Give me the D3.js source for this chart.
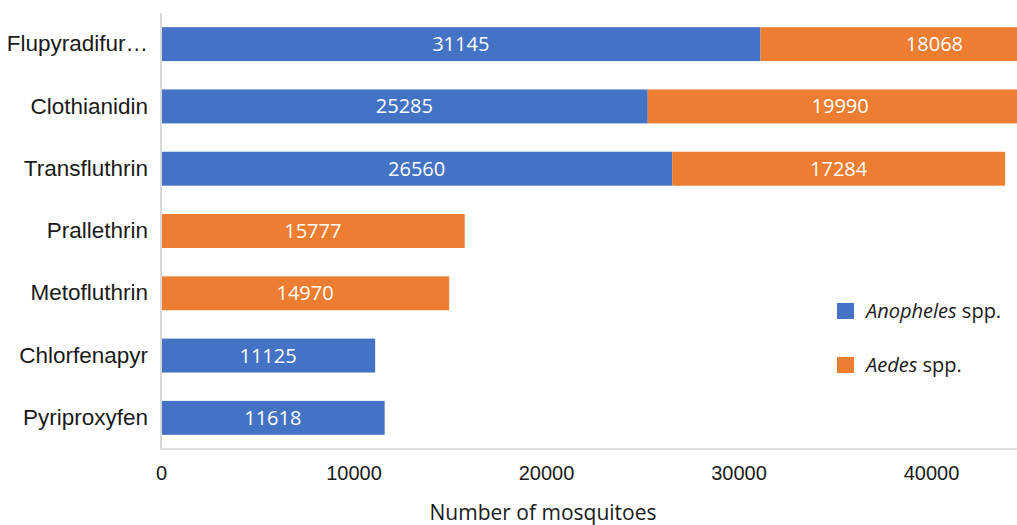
<!DOCTYPE html>
<html>
<head>
<meta charset="utf-8">
<script src="https://cdn.jsdelivr.net/npm/d3@7"></script>
<style>
  body { margin: 0; background: #fff; }
  svg { display: block; font-family: "Open Sans", sans-serif; }
</style>
</head>
<body>
<svg id="chart"></svg>
<script>
// data
const categories = ["Flupyradifur…", "Clothianidin", "Transfluthrin", "Prallethrin", "Metofluthrin", "Chlorfenapyr", "Pyriproxyfen"];
const anopheles = [31145, 25285, 26560, 0, 0, 11125, 11618];
const aedes = [18068, 19990, 17284, 15777, 14970, 0, 0];
const xTicks = [0, 10000, 20000, 30000, 40000];
const seriesNames = ["Anopheles", "Aedes"];
const colors = ["#4472C4", "#ED7D31"];

const width = 1017, height = 525;
const plot = { left: 161, top: 13, bottom: 449 };

const svg = d3.select("#chart").attr("width", width).attr("height", height);

const x = d3.scaleLinear().domain([0, 40000]).range([plot.left, 931]);
const y = d3.scaleBand().domain(categories).range([plot.top, plot.bottom]).paddingInner(0.455).paddingOuter(0.2275);

// stacked rows
const rows = categories.map((c, i) => ({ cat: c, Anopheles: anopheles[i], Aedes: aedes[i] }));
const stack = d3.stack().keys(seriesNames)(rows);

svg.append("clipPath").attr("id", "clip")
  .append("rect").attr("x", 0).attr("y", 0).attr("width", width).attr("height", height);

const bars = svg.append("g").attr("clip-path", "url(#clip)");
stack.forEach((layer, li) => {
  bars.selectAll(null)
    .data(layer.filter(d => d[1] - d[0] > 0))
    .join("rect")
    .attr("x", d => x(d[0]))
    .attr("y", d => y(d.data.cat))
    .attr("width", d => x(d[1]) - x(d[0]))
    .attr("height", y.bandwidth())
    .attr("fill", colors[li]);
});

// value labels
stack.forEach(layer => {
  svg.append("g").selectAll("text")
    .data(layer.filter(d => d[1] - d[0] > 0))
    .join("text")
    .attr("x", d => x((d[0] + d[1]) / 2))
    .attr("y", d => y(d.data.cat) + y.bandwidth() / 2)
    .attr("dy", "0.35em")
    .attr("text-anchor", "middle")
    .attr("fill", "#fff")
    .style("font-size", "20px")
    .text(d => d[1] - d[0]);
});

// axis lines
svg.append("line")
  .attr("x1", x(0)).attr("x2", x(0))
  .attr("y1", plot.top).attr("y2", plot.bottom)
  .attr("stroke", "#d9d9d9").attr("stroke-width", 2);
svg.append("line")
  .attr("x1", x(0)).attr("x2", width)
  .attr("y1", plot.bottom).attr("y2", plot.bottom)
  .attr("stroke", "#d9d9d9").attr("stroke-width", 1.5);

// x axis
const xAxis = svg.append("g")
  .attr("transform", `translate(0,${plot.bottom})`)
  .call(d3.axisBottom(x).tickValues(xTicks).tickSize(0).tickPadding(17).tickFormat(d3.format("d")));
xAxis.select(".domain").remove();
xAxis.selectAll("text").style("font-size", "20px").attr("fill", "#1a1a1a");

// y axis
const yAxis = svg.append("g")
  .attr("transform", `translate(${plot.left},0)`)
  .call(d3.axisLeft(y).tickSize(0).tickPadding(13));
yAxis.select(".domain").remove();
yAxis.selectAll("text").style("font-size", "22.5px").attr("fill", "#1a1a1a");

// x title
svg.append("text")
  .attr("x", 543).attr("y", 513)
  .attr("dy", "0.35em")
  .attr("text-anchor", "middle")
  .style("font-size", "21px")
  .attr("fill", "#1a1a1a")
  .text("Number of mosquitoes");

// legend
const legend = svg.append("g").attr("transform", "translate(837,303)");
seriesNames.forEach((name, i) => {
  const g = legend.append("g").attr("transform", `translate(0,${i * 54})`);
  g.append("rect").attr("width", 17).attr("height", 16).attr("fill", colors[i]);
  const t = g.append("text").attr("x", 29).attr("y", 8).attr("dy", "0.35em")
    .style("font-size", "20px").attr("fill", "#1a1a1a");
  t.append("tspan").style("font-style", "italic").text(name);
  t.append("tspan").text(" spp.");
});
</script>
</body>
</html>
